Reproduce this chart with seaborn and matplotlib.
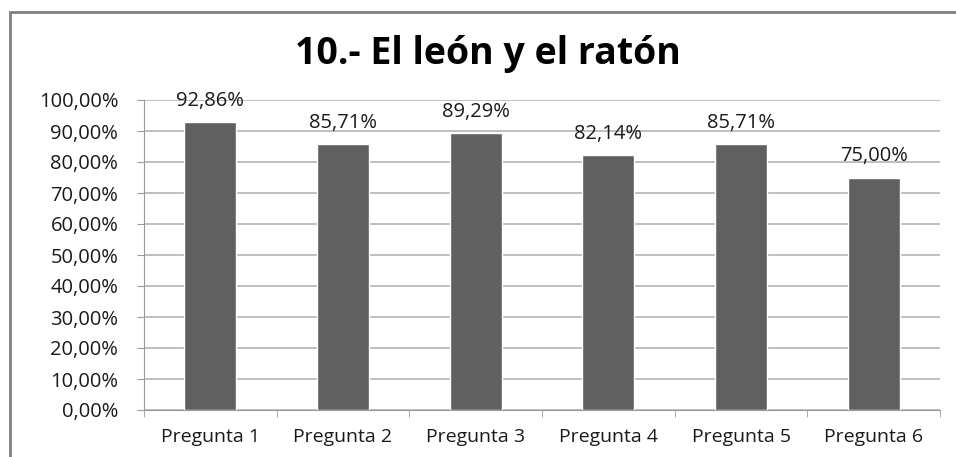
import seaborn as sns
import pandas as pd
import matplotlib.pyplot as plt
from matplotlib.patches import Rectangle
from matplotlib.ticker import FuncFormatter, MultipleLocator

# data
preguntas = ['Pregunta 1', 'Pregunta 2', 'Pregunta 3', 'Pregunta 4', 'Pregunta 5', 'Pregunta 6']
aciertos = [92.86, 85.71, 89.29, 82.14, 85.71, 75.00]

df = pd.DataFrame({'Pregunta': preguntas, 'Aciertos': aciertos})

sns.set_style('white')
plt.rcParams['font.family'] = ['Open Sans', 'DejaVu Sans']

fig = plt.figure(figsize=(9.56, 4.57), dpi=100)
ax = fig.add_axes([144 / 956, 1 - 410 / 457, (940 - 144) / 956, 310 / 457])

sns.barplot(data=df, x='Pregunta', y='Aciertos', color='#606060',
            saturation=1, width=0.39, ax=ax)

ax.set_ylim(0, 100)
ax.set_xlim(-0.5, len(preguntas) - 0.5)
ax.yaxis.set_major_locator(MultipleLocator(10))
ax.yaxis.set_major_formatter(FuncFormatter(lambda v, p: f'{v:.2f}%'.replace('.', ',')))
ax.grid(axis='y', color='#b4b4b4', linewidth=1.2)
ax.set_axisbelow(True)

for s in ['top', 'right']:
    ax.spines[s].set_visible(False)
ax.spines['left'].set_color('#9a9a9a')
ax.spines['bottom'].set_color('#9a9a9a')

# Excel style ticks: outward, x ticks at category boundaries
ax.set_xticks([i + 0.5 for i in range(-1, len(preguntas))], minor=True)
ax.tick_params(axis='x', which='minor', length=5, color='#9a9a9a', direction='out', bottom=True)
ax.tick_params(axis='x', which='major', length=0, pad=13, labelsize=14, labelcolor='#1a1a1a')
ax.tick_params(axis='y', length=5, color='#9a9a9a', direction='out', left=True,
               labelsize=14.5, labelcolor='#1a1a1a', pad=13.5)
ax.set_xlabel('')
ax.set_ylabel('')

ax.bar_label(ax.containers[0], labels=[f'{v:.2f}%'.replace('.', ',') for v in aciertos],
             padding=8, fontsize=14.5, color='#1a1a1a')

fig.text(488 / 956, 1 - 64 / 457, '10.- El león y el ratón', ha='center', va='baseline',
         fontsize=27, fontweight='bold', color='black')

# chart frame
fig.patches.append(Rectangle((9.5 / 956, -0.1), 1.2, 1 - 12 / 457 + 0.1, transform=fig.transFigure,
                             fill=False, edgecolor='#7f7f7f', linewidth=2))

fig.savefig('out.png', dpi=100)
